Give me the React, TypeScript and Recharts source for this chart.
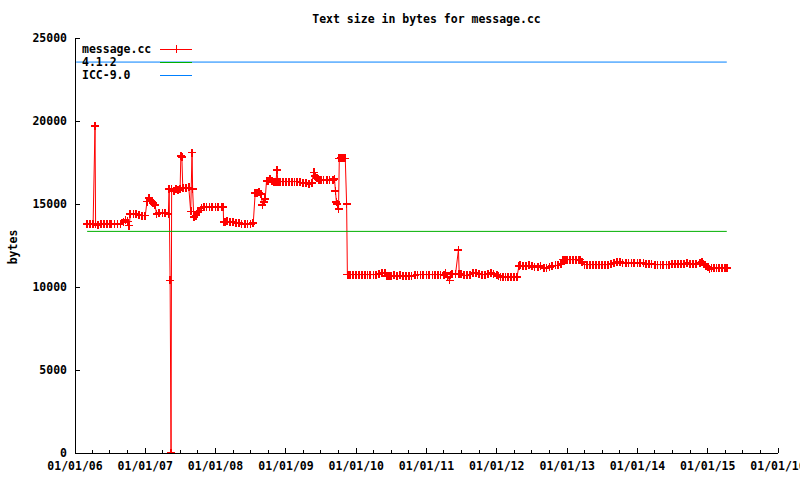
import React from "react";
import { LineChart, Line, XAxis, YAxis, Legend } from "recharts";

// ---- data ----
const chartTitle = "Text size in bytes for message.cc";
const yAxisTitle = "bytes";
const seriesNames = ["message.cc", "4.1.2", "ICC-9.0"];
const seriesColors = ["#ff0000", "#00b000", "#0080ff"];

const yTicks = [0, 5000, 10000, 15000, 20000, 25000];
const yearTicks = [
  "2006-01-01", "2007-01-01", "2008-01-01", "2009-01-01", "2010-01-01", "2011-01-01",
  "2012-01-01", "2013-01-01", "2014-01-01", "2015-01-01", "2016-01-01",
];
const minorTickMonths = ["04", "07", "10"];

const messageCcPoints: [string, number][] = [
  ["2006-03-05", 13800], ["2006-03-20", 13800], ["2006-04-05", 13800], ["2006-04-15", 19700],
  ["2006-04-18", 13800], ["2006-05-01", 13750], ["2006-05-16", 13800], ["2006-06-01", 13800],
  ["2006-06-16", 13800], ["2006-07-01", 13800], ["2006-07-10", 13800], ["2006-07-25", 13800],
  ["2006-08-10", 13800], ["2006-08-25", 13800], ["2006-09-10", 13900], ["2006-09-20", 14050],
  ["2006-10-01", 13950], ["2006-10-10", 13700], ["2006-10-15", 14400], ["2006-11-01", 14400],
  ["2006-11-15", 14400], ["2006-12-01", 14350], ["2006-12-15", 14300], ["2007-01-01", 14300],
  ["2007-01-10", 15150], ["2007-01-20", 15350], ["2007-02-01", 15200], ["2007-02-10", 15050],
  ["2007-02-20", 14950], ["2007-03-01", 14400], ["2007-03-15", 14450], ["2007-04-01", 14450],
  ["2007-04-15", 14450], ["2007-05-01", 14400], ["2007-05-05", 15900], ["2007-05-10", 10400],
  ["2007-05-15", 0], ["2007-05-18", 15900], ["2007-06-01", 15800], ["2007-06-10", 15900],
  ["2007-06-20", 15850], ["2007-07-01", 15900], ["2007-07-05", 17900], ["2007-07-10", 17850],
  ["2007-07-15", 15950], ["2007-08-01", 15950], ["2007-08-15", 16000], ["2007-08-25", 14550],
  ["2007-09-01", 18100], ["2007-09-04", 15900], ["2007-09-10", 14200], ["2007-09-20", 14300],
  ["2007-10-01", 14500], ["2007-10-10", 14600], ["2007-10-20", 14750], ["2007-11-01", 14800],
  ["2007-11-15", 14800], ["2007-12-01", 14800], ["2007-12-15", 14800], ["2008-01-01", 14800],
  ["2008-01-15", 14800], ["2008-02-01", 14800], ["2008-02-10", 14800], ["2008-02-12", 13900],
  ["2008-02-20", 13900], ["2008-03-01", 13950], ["2008-03-15", 13900], ["2008-04-01", 13900],
  ["2008-04-15", 13850], ["2008-05-01", 13850], ["2008-05-15", 13800], ["2008-06-01", 13800],
  ["2008-06-15", 13800], ["2008-07-01", 13800], ["2008-07-15", 13850], ["2008-07-25", 15650],
  ["2008-08-05", 15650], ["2008-08-15", 15700], ["2008-08-25", 15600], ["2008-09-01", 14950],
  ["2008-09-08", 15100], ["2008-09-15", 15300], ["2008-09-22", 16400], ["2008-10-01", 16400],
  ["2008-10-10", 16500], ["2008-10-20", 16400], ["2008-11-01", 16350], ["2008-11-10", 16300],
  ["2008-11-15", 17050], ["2008-11-20", 16350], ["2008-12-01", 16350], ["2008-12-15", 16350],
  ["2009-01-01", 16350], ["2009-01-15", 16350], ["2009-02-01", 16350], ["2009-02-15", 16350],
  ["2009-03-01", 16350], ["2009-03-15", 16300], ["2009-04-01", 16250], ["2009-04-15", 16250],
  ["2009-05-01", 16200], ["2009-05-15", 16250], ["2009-05-25", 16900], ["2009-06-01", 16700],
  ["2009-06-10", 16550], ["2009-06-20", 16450], ["2009-07-01", 16450], ["2009-07-15", 16450],
  ["2009-08-01", 16450], ["2009-08-15", 16450], ["2009-09-01", 16450], ["2009-09-10", 16500],
  ["2009-09-15", 15800], ["2009-09-20", 15100], ["2009-09-25", 15000], ["2009-10-01", 14700],
  ["2009-10-05", 17750], ["2009-10-15", 17800], ["2009-10-25", 17750], ["2009-11-05", 17750],
  ["2009-11-12", 15000], ["2009-11-16", 10750], ["2009-11-25", 10750], ["2009-12-01", 10750],
  ["2009-12-15", 10750], ["2010-01-01", 10750], ["2010-01-15", 10750], ["2010-02-01", 10750],
  ["2010-02-15", 10750], ["2010-03-01", 10750], ["2010-03-15", 10750], ["2010-04-01", 10750],
  ["2010-04-15", 10750], ["2010-05-01", 10800], ["2010-05-15", 10850], ["2010-06-01", 10850],
  ["2010-06-10", 10650], ["2010-06-20", 10650], ["2010-07-01", 10650], ["2010-07-15", 10700],
  ["2010-08-01", 10650], ["2010-08-15", 10700], ["2010-09-01", 10650], ["2010-09-15", 10650],
  ["2010-10-01", 10650], ["2010-10-15", 10650], ["2010-11-01", 10700], ["2010-11-15", 10750],
  ["2010-12-01", 10750], ["2010-12-15", 10750], ["2011-01-01", 10750], ["2011-01-15", 10750],
  ["2011-02-01", 10750], ["2011-02-15", 10750], ["2011-03-01", 10750], ["2011-03-15", 10750],
  ["2011-04-01", 10700], ["2011-04-10", 10850], ["2011-04-20", 10600], ["2011-05-01", 10400],
  ["2011-05-05", 10750], ["2011-05-15", 10800], ["2011-06-01", 10800], ["2011-06-16", 12250],
  ["2011-06-20", 10800], ["2011-07-01", 10800], ["2011-07-15", 10700], ["2011-08-01", 10700],
  ["2011-08-15", 10750], ["2011-09-01", 10850], ["2011-09-15", 10850], ["2011-10-01", 10800],
  ["2011-10-15", 10750], ["2011-11-01", 10750], ["2011-11-15", 10800], ["2011-12-01", 10850],
  ["2011-12-15", 10800], ["2012-01-01", 10750], ["2012-01-10", 10650], ["2012-01-20", 10600],
  ["2012-02-01", 10600], ["2012-02-15", 10600], ["2012-03-01", 10600], ["2012-03-15", 10600],
  ["2012-04-01", 10600], ["2012-04-15", 10600], ["2012-04-25", 11250], ["2012-05-01", 11300],
  ["2012-05-15", 11250], ["2012-06-01", 11250], ["2012-06-15", 11300], ["2012-07-01", 11250],
  ["2012-07-15", 11200], ["2012-08-01", 11200], ["2012-08-15", 11250], ["2012-09-01", 11150],
  ["2012-09-15", 11150], ["2012-10-01", 11200], ["2012-10-15", 11250], ["2012-11-01", 11300],
  ["2012-11-15", 11300], ["2012-12-01", 11400], ["2012-12-10", 11650], ["2012-12-20", 11650],
  ["2013-01-01", 11650], ["2013-01-15", 11650], ["2013-02-01", 11650], ["2013-02-15", 11650],
  ["2013-03-01", 11600], ["2013-03-10", 11650], ["2013-03-20", 11500], ["2013-04-01", 11350],
  ["2013-04-15", 11350], ["2013-05-01", 11350], ["2013-05-15", 11350], ["2013-06-01", 11350],
  ["2013-06-15", 11350], ["2013-07-01", 11350], ["2013-07-15", 11350], ["2013-08-01", 11350],
  ["2013-08-15", 11400], ["2013-09-01", 11450], ["2013-09-15", 11500], ["2013-10-01", 11500],
  ["2013-10-15", 11450], ["2013-11-01", 11450], ["2013-11-15", 11450], ["2013-12-01", 11450],
  ["2013-12-15", 11450], ["2014-01-01", 11450], ["2014-01-15", 11450], ["2014-02-01", 11450],
  ["2014-02-15", 11400], ["2014-03-01", 11400], ["2014-03-15", 11400], ["2014-04-01", 11350],
  ["2014-04-15", 11350], ["2014-05-01", 11350], ["2014-05-15", 11350], ["2014-06-01", 11350],
  ["2014-06-15", 11350], ["2014-07-01", 11400], ["2014-07-15", 11400], ["2014-08-01", 11400],
  ["2014-08-15", 11400], ["2014-09-01", 11400], ["2014-09-15", 11450], ["2014-10-01", 11400],
  ["2014-10-15", 11400], ["2014-11-01", 11400], ["2014-11-20", 11450], ["2014-12-01", 11500],
  ["2014-12-10", 11400], ["2014-12-20", 11300], ["2015-01-01", 11200], ["2015-01-10", 11100],
  ["2015-01-20", 11150], ["2015-02-01", 11150], ["2015-02-15", 11150], ["2015-03-01", 11150],
  ["2015-03-15", 11150], ["2015-04-01", 11150], ["2015-04-10", 11150],
];

const gcc412Dates = ["2006-03-05", "2015-04-10"];
const gcc412Bytes = [13350, 13350];
const icc90Dates = ["2006-01-07", "2015-04-10"];
const icc90Bytes = [23550, 23550];

// ---- helpers ----
const ts = (d: string) => Date.parse(d + "T00:00:00Z");
const messageData = messageCcPoints.map(([d, v]) => ({ t: ts(d), v }));
const gccData = gcc412Dates.map((d, i) => ({ t: ts(d), v: gcc412Bytes[i] }));
const iccData = icc90Dates.map((d, i) => ({ t: ts(d), v: icc90Bytes[i] }));

const xMajor = yearTicks.map(ts);
const xTicks: number[] = [];
yearTicks.forEach((y, i) => {
  xTicks.push(ts(y));
  if (i < yearTicks.length - 1) minorTickMonths.forEach((m) => xTicks.push(ts(y.slice(0, 4) + "-" + m + "-01")));
});
const xDomain = [xMajor[0], xMajor[xMajor.length - 1]];

const FONT = "'DejaVu Sans Mono', 'Liberation Mono', monospace";
const fontProps = { fontFamily: FONT, fontSize: 11.5, fontWeight: 700, fill: "#000" } as const;

const fmtDate = (t: number) => {
  const d = new Date(t);
  const p = (n: number) => String(n).padStart(2, "0");
  return `${p(d.getUTCMonth() + 1)}/${p(d.getUTCDate())}/${p(d.getUTCFullYear() % 100)}`;
};

const BottomTick = (props: any) => {
  const { x, y, payload } = props;
  const major = xMajor.includes(payload.value);
  return (
    <g>
      <line x1={x} x2={x} y1={y} y2={y - (major ? 5 : 3)} stroke="#000" shapeRendering="crispEdges" />
      {major && (
        <text x={x} y={y + 13} dy="0.35em" textAnchor="middle" {...fontProps}>
          {fmtDate(payload.value)}
        </text>
      )}
    </g>
  );
};
const TopTick = (props: any) => {
  const { x, y, payload } = props;
  const major = xMajor.includes(payload.value);
  return <line x1={x} x2={x} y1={y} y2={y + (major ? 5 : 3)} stroke="#000" shapeRendering="crispEdges" />;
};
const LeftTick = (props: any) => {
  const { x, y, payload } = props;
  return (
    <g>
      <line x1={x} x2={x + 5} y1={y} y2={y} stroke="#000" shapeRendering="crispEdges" />
      <text x={x - 8} y={y} dy="0.35em" textAnchor="end" {...fontProps}>
        {payload.value}
      </text>
    </g>
  );
};
const RightTick = (props: any) => {
  const { x, y } = props;
  return <line x1={x - 5} x2={x} y1={y} y2={y} stroke="#000" shapeRendering="crispEdges" />;
};

const PlusDot = (props: any) => {
  const { cx, cy, index } = props;
  if (cx == null || cy == null) return <g key={`n${index}`} />;
  return (
    <path
      key={`p${index}`}
      d={`M${cx - 4},${cy}H${cx + 4}M${cx},${cy - 4}V${cy + 4}`}
      stroke={seriesColors[0]}
      strokeWidth={1.7}
      fill="none"
      shapeRendering="crispEdges"
    />
  );
};

const KeyContent = () => (
  <svg width={130} height={42} style={{ display: "block" }}>
    {seriesNames.map((name, i) => {
      const cy = 6 + i * 13;
      return (
        <g key={name}>
          <text x={0} y={cy} dy="0.35em" {...fontProps}>
            {name}
          </text>
          <line x1={78} x2={110} y1={cy} y2={cy} stroke={seriesColors[i]} shapeRendering="crispEdges" />
          {i === 0 && (
            <path d={`M${94 - 4},${cy}H${94 + 4}M${94},${cy - 4}V${cy + 4}`} stroke={seriesColors[0]} shapeRendering="crispEdges" />
          )}
        </g>
      );
    })}
  </svg>
);

const axisLine = { stroke: "#000", strokeWidth: 1, shapeRendering: "crispEdges" } as any;

export default function App() {
  return (
    <div style={{ position: "absolute", left: 0, top: 0, width: 800, height: 480, background: "#fff" }}>
      <div
        style={{
          position: "absolute",
          left: 75,
          width: 703,
          top: 12,
          textAlign: "center",
          fontFamily: FONT,
          fontSize: 11.5,
          fontWeight: 700,
          lineHeight: "14px",
        }}
      >
        {chartTitle}
      </div>
      <div
        style={{
          position: "absolute",
          left: 13,
          top: 247,
          transform: "translate(-50%, -50%) rotate(-90deg)",
          fontFamily: FONT,
          fontSize: 11.5,
          fontWeight: 700,
          lineHeight: "14px",
          whiteSpace: "nowrap",
        }}
      >
        {yAxisTitle}
      </div>
      <LineChart width={800} height={480} margin={{ top: 38, right: 22, bottom: 0, left: 0 }}>
        <XAxis
          xAxisId="bottom"
          dataKey="t"
          type="number"
          scale="time"
          domain={xDomain}
          ticks={xTicks}
          interval={0}
          height={27}
          tickSize={0}
          tickMargin={0}
          tickLine={false}
          axisLine={axisLine}
          tick={<BottomTick />}
          allowDataOverflow
        />
        <XAxis
          xAxisId="top"
          orientation="top"
          dataKey="t"
          type="number"
          scale="time"
          domain={xDomain}
          ticks={xTicks}
          interval={0}
          height={0}
          tickSize={0}
          tickMargin={0}
          tickLine={false}
          axisLine={axisLine}
          tick={<TopTick />}
          allowDataOverflow
        />
        <YAxis
          yAxisId="left"
          type="number"
          domain={[0, 25000]}
          ticks={yTicks}
          interval={0}
          width={75}
          tickSize={0}
          tickMargin={0}
          tickLine={false}
          axisLine={axisLine}
          tick={<LeftTick />}
          allowDataOverflow
        />
        <YAxis
          yAxisId="right"
          orientation="right"
          type="number"
          domain={[0, 25000]}
          ticks={yTicks}
          interval={0}
          width={0}
          tickSize={0}
          tickMargin={0}
          tickLine={false}
          axisLine={axisLine}
          tick={<RightTick />}
          allowDataOverflow
        />
        <Legend
          layout="vertical"
          align="center"
          verticalAlign="middle"
          content={<KeyContent />}
          wrapperStyle={{ left: 82, top: 43, width: 130, height: 42 }}
        />
        <Line
          xAxisId="bottom"
          yAxisId="left"
          data={messageData}
          dataKey="v"
          name={seriesNames[0]}
          type="linear"
          stroke={seriesColors[0]}
          strokeWidth={1}
          dot={PlusDot}
          activeDot={false}
          isAnimationActive={false}
        />
        <Line
          xAxisId="bottom"
          yAxisId="left"
          data={gccData}
          dataKey="v"
          name={seriesNames[1]}
          type="linear"
          stroke={seriesColors[1]}
          strokeWidth={1}
          dot={false}
          activeDot={false}
          isAnimationActive={false}
        />
        <Line
          xAxisId="top"
          yAxisId="right"
          data={iccData}
          dataKey="v"
          name={seriesNames[2]}
          type="linear"
          stroke={seriesColors[2]}
          strokeWidth={1}
          dot={false}
          activeDot={false}
          isAnimationActive={false}
        />
      </LineChart>
    </div>
  );
}
